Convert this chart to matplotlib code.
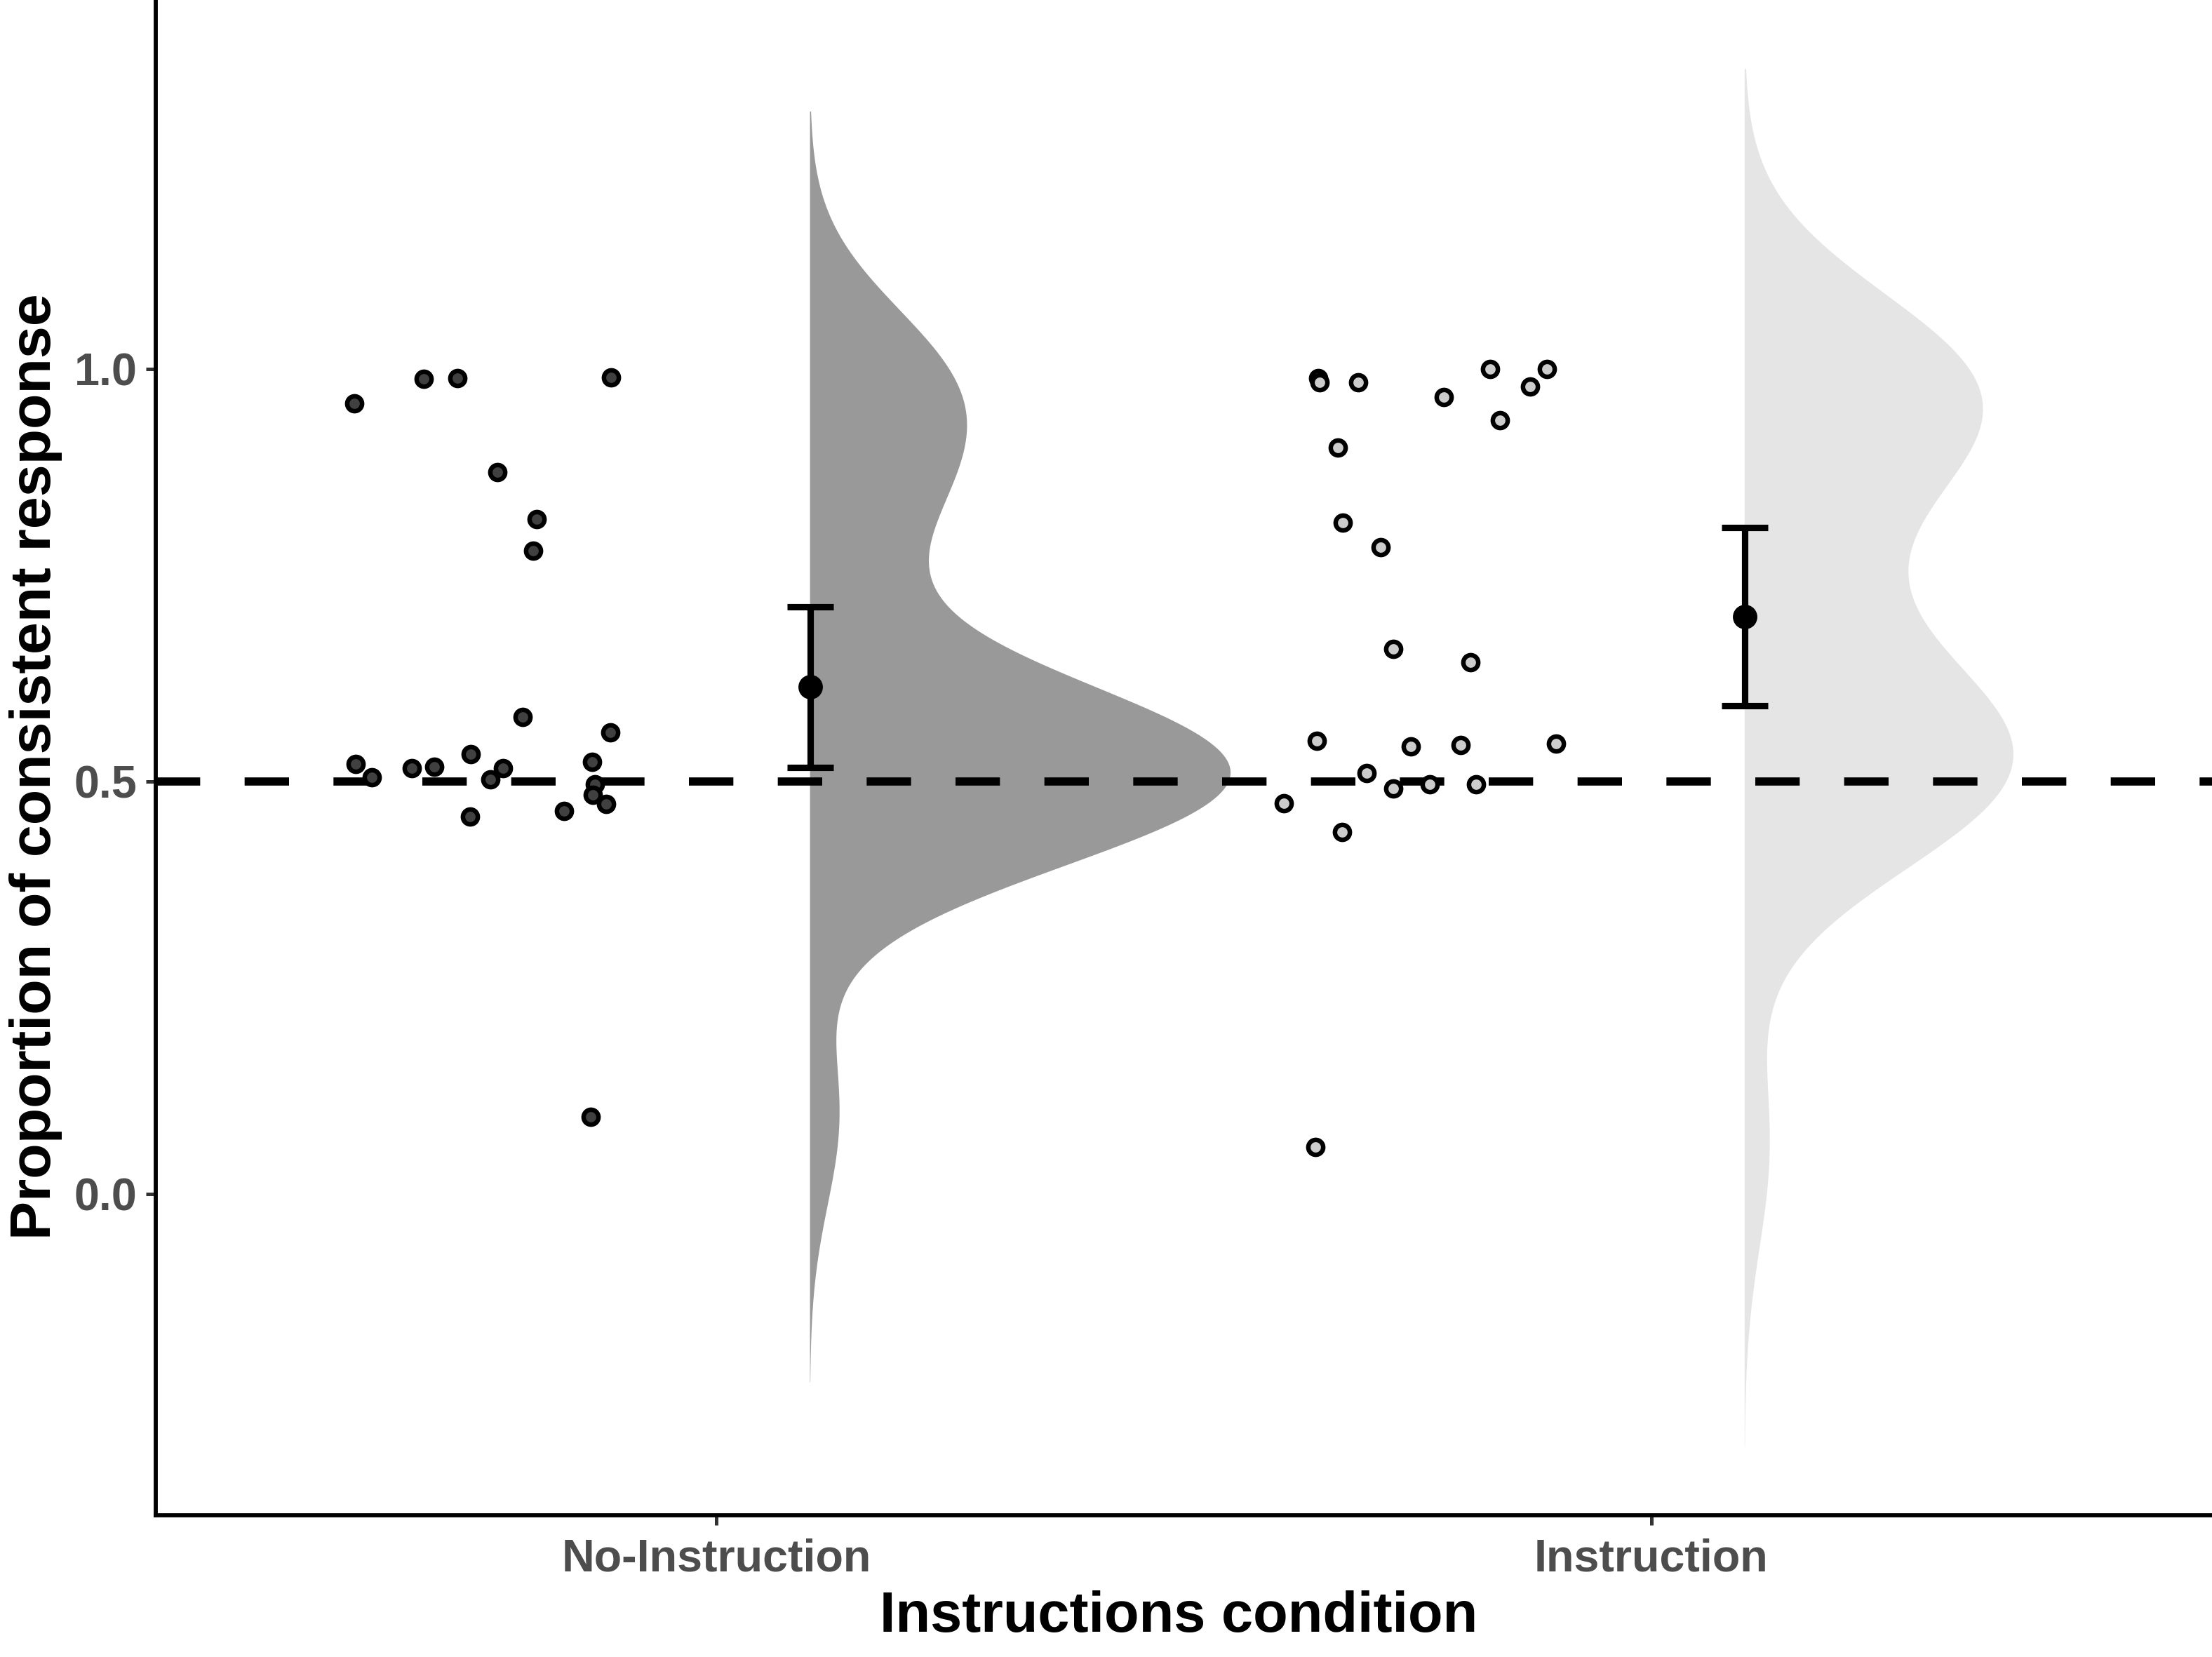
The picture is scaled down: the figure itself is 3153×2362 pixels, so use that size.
import numpy as np
import matplotlib
matplotlib.use("Agg")
import matplotlib.pyplot as plt

# ---------------- data ----------------
categories = ["No-Instruction", "Instruction"]
cat_pos = [1, 2]

# jittered raw points: x positions (jittered, left of each category) and values
noinst_x = [0.6125, 0.6865, 0.7228, 0.8871, 0.7656, 0.8077, 0.8035, 0.7923,
            0.8865, 0.6136, 0.6311, 0.6739, 0.6983, 0.7371, 0.7719, 0.7584,
            0.8669, 0.8695, 0.8675, 0.8821, 0.8365, 0.7360, 0.8653]
noinst_y = [0.958, 0.988, 0.989, 0.990, 0.875, 0.818, 0.780, 0.578,
            0.560, 0.521, 0.505, 0.516, 0.518, 0.533, 0.516, 0.503,
            0.524, 0.497, 0.484, 0.473, 0.464, 0.458, 0.094]

inst_x = [1.6435, 1.6454, 1.6864, 1.7778, 1.8273, 1.8886, 1.8705, 1.8384,
          1.6648, 1.6699, 1.7104, 1.7238, 1.8068, 1.6425, 1.7428, 1.7962,
          1.8979, 1.6952, 1.7238, 1.7628, 1.8123, 1.6070, 1.6690, 1.6405]
inst_y = [0.989, 0.984, 0.984, 0.966, 1.000, 1.000, 0.979, 0.938,
          0.905, 0.814, 0.784, 0.661, 0.645, 0.549, 0.543, 0.544,
          0.546, 0.510, 0.492, 0.497, 0.497, 0.474, 0.439, 0.057]

# summary (mean and 95% CI) per condition
means = [0.6145, 0.700]
ci_low = [0.517, 0.592]
ci_high = [0.712, 0.808]

yticks = [0.0, 0.5, 1.0]
ytick_labels = ["0.0", "0.5", "1.0"]
chance_level = 0.5

point_fills = ["#404040", "#CCCCCC"]
violin_fills = ["#999999", "#E5E5E5"]

# ---------------- figure ----------------
plt.rcParams["font.family"] = ["Liberation Sans", "DejaVu Sans"]
plt.rcParams["lines.scale_dashes"] = False

W, H = 3153, 2362
fig = plt.figure(figsize=(W / 300, H / 300), dpi=300)
L, R, B, T = 222, 3153, 2160, 0
ax = fig.add_axes([L / W, (H - B) / H, (R - L) / W, (B - T) / H])
ax.set_xlim(0.4, 2.6)
ax.set_ylim(-0.389, 1.447)


def nrd0(v):
    v = np.asarray(v)
    sd = np.std(v, ddof=1)
    q75, q25 = np.percentile(v, [75, 25])
    lo = min(sd, (q75 - q25) / 1.34)
    return 0.9 * lo * len(v) ** -0.2


def kde(v):
    v = np.asarray(v)
    bw = nrd0(v)
    g = np.linspace(v.min() - 3 * bw, v.max() + 3 * bw, 512)
    d = np.exp(-0.5 * ((g[:, None] - v[None, :]) / bw) ** 2).sum(1)
    d /= len(v) * bw * np.sqrt(2 * np.pi)
    return g, d


groups_y = [noinst_y, inst_y]
dens = [kde(v) for v in groups_y]
dmax = max(d.max() for _, d in dens)
nudge = 0.1
half_width = 0.45
for pos, (g, d), col in zip(cat_pos, dens, violin_fills):
    base = pos + nudge
    ax.fill_betweenx(g, base, base + d / dmax * half_width, facecolor=col,
                     edgecolor="none", zorder=1)

# chance line
ax.axhline(chance_level, color="black", lw=2.8, dashes=(15.2, 15.2),
           zorder=2)

# raw points
for xs, ys, fc in [(noinst_x, noinst_y, point_fills[0]),
                   (inst_x, inst_y, point_fills[1])]:
    ax.scatter(xs, ys, s=26, facecolor=fc, edgecolor="black",
               linewidths=1.55, zorder=4)

# mean + CI
for pos, m, lo, hi in zip(cat_pos, means, ci_low, ci_high):
    ax.errorbar([pos + nudge], [m], yerr=[[m - lo], [hi - m]], fmt="none",
                ecolor="black", elinewidth=2.2, capsize=8.0,
                capthick=2.2, zorder=5)
    ax.scatter([pos + nudge], [m], s=70, color="black", linewidths=0,
               zorder=6)

# axes styling
for s in ["top", "right"]:
    ax.spines[s].set_visible(False)
for s in ["left", "bottom"]:
    ax.spines[s].set_linewidth(1.4)
    ax.spines[s].set_color("black")

ax.set_xticks(cat_pos)
ax.set_xticklabels(categories)
ax.set_yticks(yticks)
ax.set_yticklabels(ytick_labels)
ax.tick_params(axis="both", length=3.4, width=1.2, color="#333333",
               labelcolor="#4D4D4D", labelsize=15.5)
ax.tick_params(axis="x", pad=4.5)
ax.tick_params(axis="y", pad=3.0)
for lab in ax.get_xticklabels() + ax.get_yticklabels():
    lab.set_fontweight("bold")

fig.text(1680 / W, 1 - 2326 / H, "Instructions condition", ha="center",
         va="baseline", fontsize=19.5, fontweight="bold", color="black")
fig.text(72 / W, 1 - 1093 / H, "Proportion of consistent response",
         rotation=90, rotation_mode="anchor", ha="center", va="baseline",
         fontsize=19.8, fontweight="bold", color="black")

fig.savefig("out.png", dpi=300)
